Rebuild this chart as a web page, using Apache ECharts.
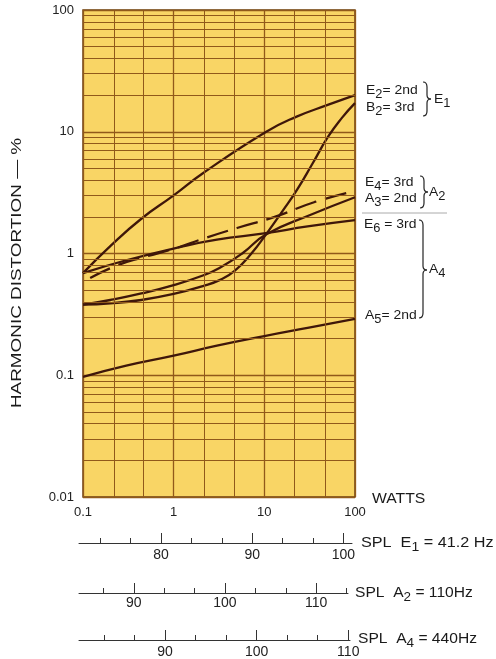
<!DOCTYPE html>
<html><head><meta charset="utf-8">
<script src="https://cdn.jsdelivr.net/npm/echarts@6/dist/echarts.min.js"></script>
<style>html,body{margin:0;padding:0;background:#fff}#c{width:496px;height:659px}</style>
</head><body><div id="c"></div>
<script>
// ---- data (watts vs harmonic distortion %) ----
const wattsE2 = [0.1, 0.2, 0.44, 1, 2.1, 10.5, 22.7, 50, 100];
const distE2  = [0.69, 1.15, 1.93, 3.0, 4.56, 10, 13.3, 16.6, 20];
const wattsB2 = [0.1, 0.2, 0.44, 1, 2.1, 3.3, 4.7, 7.2, 10.4, 16, 22.9, 34.3, 50.3, 71.7, 100];
const distB2  = [0.38, 0.39, 0.415, 0.465, 0.54, 0.61, 0.72, 1.0, 1.43, 2.25, 3.33, 5.54, 9.06, 13.0, 17.2];
const wattsE4 = [0.12, 0.24, 0.46, 1.03, 2.1, 5, 13, 36, 100];
const distE4  = [0.63, 0.8, 0.93, 1.1, 1.32, 1.62, 2.0, 2.65, 3.26];
const wattsA3 = [0.1, 0.2, 0.44, 1, 2.1, 3.2, 5.7, 10.4, 32, 100];
const distA3  = [0.38, 0.415, 0.47, 0.55, 0.66, 0.76, 1.0, 1.43, 2.07, 2.9];
const wattsE6 = [0.1, 0.3, 1.17, 3, 10.4, 30, 100];
const distE6  = [0.69, 0.88, 1.13, 1.3, 1.47, 1.67, 1.88];
const wattsA5 = [0.1, 0.3, 1, 3, 10, 30, 100];
const distA5  = [0.097, 0.12, 0.145, 0.175, 0.21, 0.245, 0.29];

// grid lines of the log paper
const yMinorGrid = [0.02,0.03,0.04,0.05,0.06,0.07,0.08,0.09,0.2,0.3,0.4,0.5,0.6,0.7,0.8,0.9,2,3,4,5,6,7,8,9,20,30,40,50,60,70,80,90];
const xMinorGrid = [0.2154, 0.4642, 2.154, 4.642, 21.54, 46.42];

// SPL scales (dB)
const splE1Major = [80, 90, 100];
const splE1Minor = [73.33, 76.67, 83.33, 86.67, 93.33, 96.67];
const splA2Major = [90, 100, 110];
const splA2Minor = [86.67, 93.33, 96.67, 103.33, 106.67, 113.33];
const splA4Major = [90, 100, 110];
const splA4Minor = [83.33, 86.67, 93.33, 96.67, 103.33, 106.67];
const splE1Range = [71.0, 100.95];
const splA2Range = [83.98, 113.5];
const splA4Range = [80.62, 110.19];

const curveColor = '#3f170a';
const gridColor = '#91591a';
const FONT = 'Liberation Sans';

function pts(w, v) { return w.map((x, i) => [x, v[i]]); }
function curve(name, w, v, dashed) {
  return {
    name, type: 'line', xAxisIndex: 0, yAxisIndex: 0, data: pts(w, v), smooth: 0.5,
    symbol: 'none', z: 3, animation: false,
    lineStyle: { color: curveColor, width: 2.3, type: dashed ? [22, 9] : 'solid' }
  };
}

const rich = {
  b: { fontSize: 13, fontFamily: FONT, fill: '#1a1a1a', padding: [0, 0, 4, 0] },
  s: { fontSize: 12, fontFamily: FONT, fill: '#1a1a1a', padding: [5, 0, 0, 0] },
  B: { fontSize: 15, fontFamily: FONT, fill: '#1a1a1a', padding: [0, 0, 4, 0] },
  S: { fontSize: 13, fontFamily: FONT, fill: '#1a1a1a', padding: [5, 0, 0, 0] }
};
function txt(x, y, text, sx) {
  return {
    type: 'text', x, y, silent: true, z: 10, scaleX: sx || 1.07,
    style: { text, rich, fill: '#1a1a1a', font: '13px "' + FONT + '"',
      align: 'left', verticalAlign: 'middle', textAlign: 'left', textVerticalAlign: 'middle' }
  };
}
// curly brace "}" built from line / quadratic bezier pieces
function brace(x0, top, bot, mid) {
  const x1 = x0 + 4, c = 5, st = { stroke: '#222', fill: null, lineWidth: 1.2 };
  const q = (a, b, cp) => ({ type: 'bezierCurve', silent: true, z: 10, style: st,
    shape: { x1: a[0], y1: a[1], x2: b[0], y2: b[1], cpx1: cp[0], cpy1: cp[1] } });
  const l = (a, b) => ({ type: 'line', silent: true, z: 10, style: st,
    shape: { x1: a[0], y1: a[1], x2: b[0], y2: b[1] } });
  return [
    q([x0, top], [x1, top + c], [x1, top]),
    l([x1, top + c], [x1, mid - 4]),
    q([x1, mid - 4], [x1 + 4, mid], [x1, mid]),
    q([x1 + 4, mid], [x1, mid + 4], [x1, mid]),
    l([x1, mid + 4], [x1, bot - c]),
    q([x1, bot - c], [x0, bot], [x1, bot])
  ];
}

const scaleDefs = [
  { y: 543, range: splE1Range, major: splE1Major, minor: splE1Minor, left: 79, width: 273, margin: 5 },
  { y: 593, range: splA2Range, major: splA2Major, minor: splA2Minor, left: 79, width: 269, margin: 3 },
  { y: 640, range: splA4Range, major: splA4Major, minor: splA4Minor, left: 79, width: 271, margin: 5 }
];

const grids = [{ left: 83, top: 10, width: 272, height: 487, show: true,
  backgroundColor: '#f9d565', borderColor: '#6e4212', borderWidth: 1.5 }];
const xAxes = [{
  type: 'log', logBase: 10, min: 0.1, max: 100, gridIndex: 0,
  axisLine: { show: false }, axisTick: { show: false },
  splitLine: { show: true, lineStyle: { color: gridColor, width: 1.3 } },
  axisLabel: { margin: 9, fontSize: 13, fontFamily: FONT, color: '#222' }
}];
const yAxes = [{
  type: 'log', logBase: 10, min: 0.01, max: 100, gridIndex: 0,
  axisLine: { show: false }, axisTick: { show: false },
  splitLine: { show: true, lineStyle: { color: gridColor, width: 1.3 } },
  axisLabel: { margin: 9, fontSize: 13, fontFamily: FONT, color: '#222', padding: [0, 0, 5, 0] }
}];
scaleDefs.forEach((s) => {
  grids.push({ left: s.left, width: s.width, top: s.y - 1, height: 1 });
  let gi = grids.length - 1;
  xAxes.push({ type: 'value', gridIndex: gi, min: s.range[0], max: s.range[1], position: 'bottom',
    axisLine: { show: true, lineStyle: { color: '#333', width: 1 } },
    axisTick: { show: true, inside: true, length: 5, customValues: s.minor, lineStyle: { color: '#333' } },
    axisLabel: { show: false }, splitLine: { show: false } });
  yAxes.push({ type: 'value', gridIndex: gi, show: false });
  grids.push({ left: s.left, width: s.width, top: s.y - 1, height: 1 });
  gi = grids.length - 1;
  xAxes.push({ type: 'value', gridIndex: gi, min: s.range[0], max: s.range[1], position: 'bottom',
    axisLine: { show: false },
    axisTick: { show: true, inside: true, length: 10, customValues: s.major, lineStyle: { color: '#333' } },
    axisLabel: { show: true, customValues: s.major, margin: s.margin, fontSize: 14, fontFamily: FONT, color: '#222' },
    splitLine: { show: false } });
  yAxes.push({ type: 'value', gridIndex: gi, show: false });
});

const gridMarkSeries = {
  name: 'grid', type: 'line', xAxisIndex: 0, yAxisIndex: 0, data: [], z: 1, silent: true, animation: false,
  markLine: { silent: true, symbol: ['none', 'none'], label: { show: false }, animation: false,
    lineStyle: { color: gridColor, width: 1, type: 'solid', opacity: 1 },
    data: yMinorGrid.map(v => ({ yAxis: v })).concat(xMinorGrid.map(v => ({ xAxis: v }))) }
};

const graphics = [
  { type: 'text', x: 17, y: 273, rotation: Math.PI / 2, scaleX: 1.35, silent: true,
    style: { text: 'HARMONIC DISTORTION — %', fill: '#1a1a1a', font: '14px "' + FONT + '"',
      align: 'center', verticalAlign: 'middle', textAlign: 'center', textVerticalAlign: 'middle' } },
  { type: 'text', x: 372, y: 499, scaleX: 1.05, silent: true,
    style: { text: 'WATTS', fill: '#1a1a1a', font: '15px "' + FONT + '"', align: 'left', verticalAlign: 'middle' } },
  txt(366, 92, '{b|E}{s|2}{b|= 2nd}'),
  txt(366, 109, '{b|B}{s|2}{b|= 3rd}'),
  txt(434, 101, '{b|E}{s|1}'),
  txt(365, 184, '{b|E}{s|4}{b|= 3rd}'),
  txt(365, 200, '{b|A}{s|3}{b|= 2nd}'),
  txt(429, 194, '{b|A}{s|2}'),
  { type: 'line', silent: true, shape: { x1: 362, y1: 213, x2: 447, y2: 213 }, style: { stroke: '#aaa', lineWidth: 1 } },
  txt(364, 226, '{b|E}{s|6}{b| = 3rd}'),
  txt(429, 271, '{b|A}{s|4}'),
  txt(365, 317, '{b|A}{s|5}{b|= 2nd}'),
  txt(361, 545, '{B|SPL  E}{S|1}{B| = 41.2 Hz}', 1.08),
  txt(355, 595, '{B|SPL  A}{S|2}{B| = 110Hz}', 1.04),
  txt(358, 641, '{B|SPL  A}{S|4}{B| = 440Hz}', 1.04)
].concat(brace(423, 82, 116, 99), brace(420, 176, 208, 192), brace(419, 220, 318, 270));

const option = {
  animation: false,
  backgroundColor: '#ffffff',
  grid: grids, xAxis: xAxes, yAxis: yAxes,
  series: [
    gridMarkSeries,
    curve('E2 = 2nd', wattsE2, distE2),
    curve('B2 = 3rd', wattsB2, distB2),
    curve('E4 = 3rd', wattsE4, distE4, true),
    curve('A3 = 2nd', wattsA3, distA3),
    curve('E6 = 3rd', wattsE6, distE6),
    curve('A5 = 2nd', wattsA5, distA5)
  ],
  graphic: graphics
};
const chart = echarts.init(document.getElementById('c'), null, { renderer: 'canvas' });
chart.setOption(option);
</script>
</body></html>
